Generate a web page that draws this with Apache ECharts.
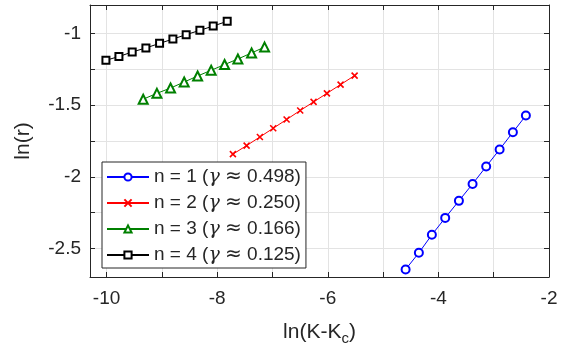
<!DOCTYPE html>
<html><head><meta charset="utf-8">
<script src="https://cdn.jsdelivr.net/npm/echarts@6/dist/echarts.min.js"></script>
<style>html,body{margin:0;padding:0;background:#fff}#c{width:567px;height:351px}</style>
</head><body><div id="c"></div>
<script>
var seriesNames = ['n = 1 (\u03b3 \u2248 0.498)', 'n = 2 (\u03b3 \u2248 0.250)', 'n = 3 (\u03b3 \u2248 0.166)', 'n = 4 (\u03b3 \u2248 0.125)'];
var x1 = [-4.593,-4.353,-4.118,-3.877,-3.629,-3.382,-3.136,-2.893,-2.653,-2.418];
var y1 = [-2.647,-2.531,-2.405,-2.287,-2.168,-2.050,-1.928,-1.809,-1.689,-1.572];
var x2 = [-7.716,-7.468,-7.228,-6.987,-6.745,-6.499,-6.257,-6.016,-5.769,-5.515];
var y2 = [-1.842,-1.782,-1.722,-1.661,-1.600,-1.537,-1.477,-1.417,-1.356,-1.293];
var x3 = [-9.338,-9.090,-8.843,-8.597,-8.354,-8.109,-7.866,-7.626,-7.378,-7.143];
var y3 = [-1.458,-1.417,-1.380,-1.338,-1.296,-1.256,-1.216,-1.177,-1.135,-1.094];
var x4 = [-10.012,-9.777,-9.537,-9.289,-9.042,-8.801,-8.561,-8.313,-8.072,-7.819];
var y4 = [-1.186,-1.160,-1.128,-1.100,-1.068,-1.038,-1.007,-0.977,-0.947,-0.914];
var xTickLabels = [-10,-8,-6,-4,-2];
var xTicks = [-10,-9,-8,-7,-6,-5,-4,-3,-2];
var yTickLabels = [-2.5,-2,-1.5,-1];
var yTicks = [-2.5,-2.25,-2,-1.75,-1.5,-1.25,-1];

function pairs(xs, ys){ return xs.map(function(v,i){ return [v, ys[i]]; }); }
var txt = '#262626', gridC = '#e3e3e3', font = 'Liberation Sans';
var xPath = 'path://M0,0L10,10M10,0L0,10';

function mkX(pos, show){
  return {type:'value', min:-10.3, max:-2, position:pos, gridIndex:0,
    axisLine:{show:true, onZero:false, lineStyle:{color:txt, width:1}},
    axisTick:{show:true, inside:true, length:5, customValues:xTicks, lineStyle:{color:txt}},
    axisLabel:{show:show, customValues:xTickLabels, color:txt, fontSize:19, fontFamily:font, margin:12},
    splitLine:{show:show, lineStyle:{color:gridC, width:1}},
    name: show ? 'ln(K-K{s|c})' : '', nameLocation:'middle', nameGap:42,
    nameTextStyle:{color:txt, fontSize:21, fontFamily:font, rich:{s:{fontSize:15, fontFamily:font, color:txt, verticalAlign:'bottom', padding:[12,0,0,0]}}}
  };
}
function mkY(pos, show){
  return {type:'value', min:-2.7, max:-0.8, position:pos, gridIndex:0,
    axisLine:{show:true, onZero:false, lineStyle:{color:txt, width:1}},
    axisTick:{show:true, inside:true, length:5, customValues:yTicks, lineStyle:{color:txt}},
    axisLabel:{show:show, customValues:yTickLabels, color:txt, fontSize:19, fontFamily:font, margin:9,
      formatter:function(v){ return String(v); }},
    splitLine:{show:show, lineStyle:{color:gridC, width:1}},
    name: show ? 'ln(r)' : '', nameLocation:'middle', nameGap:56, nameRotate:90,
    nameTextStyle:{color:txt, fontSize:21, fontFamily:font}
  };
}
function mkS(i, xs, ys, color, symbol, size, extra){
  var s = {name:seriesNames[i], type:'line', data:pairs(xs,ys), xAxisIndex:0, yAxisIndex:0,
    symbol:symbol, symbolSize:size, showSymbol:true,
    lineStyle:{color:color, width:1}, itemStyle:{color:color, borderColor:color, borderWidth:1.2},
    animation:false, z:3};
  if (extra) s.itemStyle = Object.assign(s.itemStyle, extra);
  return s;
}
var chart = echarts.init(document.getElementById('c'), null, {renderer:'canvas'});
chart.setOption({
  backgroundColor:'#fff',
  animation:false,
  grid:{left:90, right:18, top:5, bottom:74, containLabel:false},
  xAxis:[mkX('bottom', true), mkX('top', false)],
  yAxis:[mkY('left', true), mkY('right', false)],
  legend:{left:102, top:162, orient:'vertical', itemWidth:42, itemHeight:9, itemGap:6,
    padding:[5,5,3,4], borderColor:txt, borderWidth:1, backgroundColor:'#fff',
    textStyle:{color:txt, fontSize:19, fontFamily:font,
      rich:{g:{fontSize:19, fontFamily:'DejaVu Serif', fontStyle:'italic', color:txt},
            a:{fontSize:20, fontFamily:'DejaVu Sans', color:txt}}},
    formatter:function(name){
      return name.replace('\u03b3 \u2248', '{g|\u03b3} {a|\u2248}');
    },
    data:seriesNames},
  series:[
    mkS(0, x1, y1, '#0000ff', 'emptyCircle', 8),
    mkS(1, x2, y2, '#ff0000', xPath, 6, {borderWidth:1.6}),
    mkS(2, x3, y3, '#008000', 'emptyTriangle', 9),
    mkS(3, x4, y4, '#000000', 'emptyRect', 7)
  ]
});
</script></body></html>
